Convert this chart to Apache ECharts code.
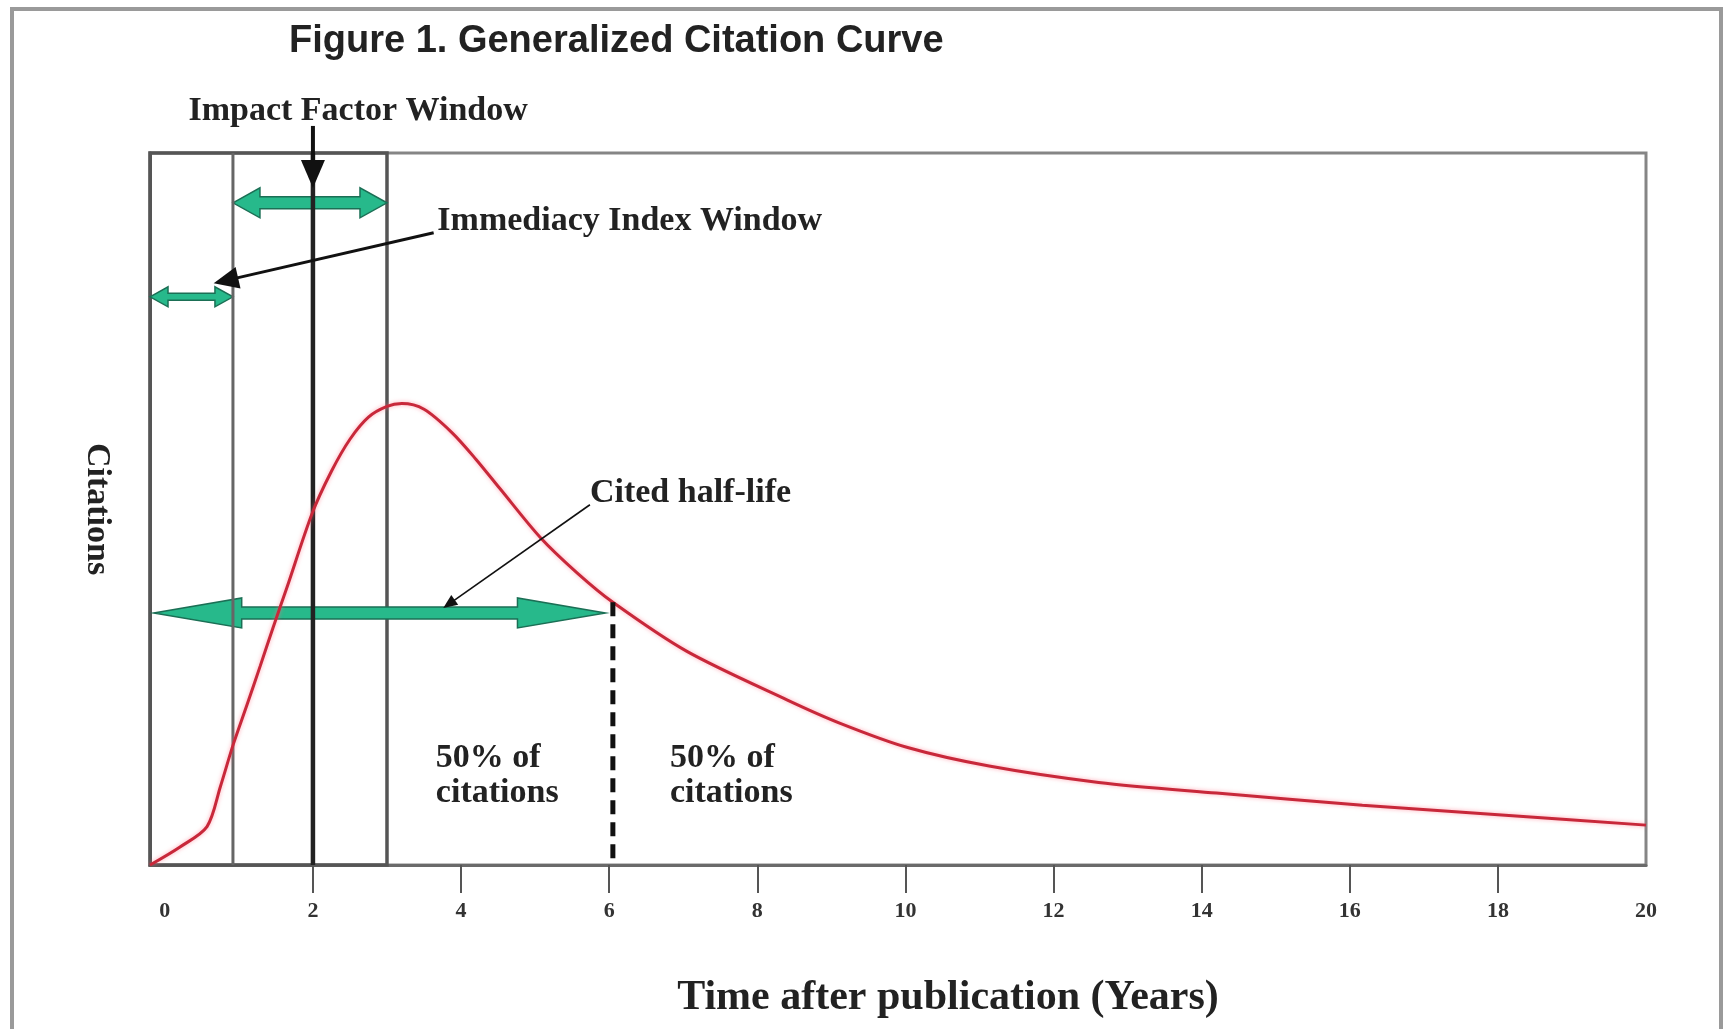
<!DOCTYPE html>
<html>
<head>
<meta charset="utf-8">
<script src="https://cdn.jsdelivr.net/npm/echarts@6/dist/echarts.min.js"></script>
<style>
html,body{margin:0;padding:0;background:#fff;}
#chart{width:1723px;height:1029px;}
</style>
</head>
<body>
<div id="chart"></div>
<script>
// ---- data (years after publication / relative citations) ----
const curveYears = [-0.2, 0.2, 0.57, 0.75, 0.92, 1.11, 1.29, 1.46, 1.65, 1.99, 2.25, 2.5, 2.75, 3.0, 3.2, 3.5, 3.88, 4.2, 4.53, 5.07, 5.57, 6.05, 7.05, 8.4, 9.12, 10.03, 11.13, 12.61, 14.2, 16.17, 18.1, 20];
const curveCitations = [0, 2.5, 5.4, 11.0, 16.8, 22.5, 28.0, 33.3, 39.0, 49.4, 55.3, 59.8, 62.9, 64.4, 64.8, 64.0, 60.7, 57.0, 52.8, 46.0, 41.0, 36.9, 30.0, 23.2, 19.9, 16.5, 13.9, 11.6, 10.1, 8.4, 7.0, 5.6];

const tickYears = [0, 2, 4, 6, 8, 10, 12, 14, 16, 18, 20];
const tickMarkYears = [2, 4, 6, 8, 10, 12, 14, 16, 18];

// windows: box covering years -0.2..3 and inner separators
const windowBoxFrom = [-0.2];
const windowBoxTo = [3.0];
const windowLineYears = [0.92, 2.0];

// green double-headed spans: Impact Factor, Immediacy Index, Cited half-life
const spanFrom = [0.92, -0.2, -0.15];
const spanTo = [3.0, 0.92, 5.95];
const spanLevel = [93.0, 79.8, 35.4];

// black pointer arrows (from -> to)
const pointerFromX = [2.0, 3.63, 5.74];
const pointerFromY = [103.8, 88.8, 50.6];
const pointerToX = [2.0, 0.66, 3.76];
const pointerToY = [95.1, 81.7, 36.1];

// cited half-life marker
const halfLifeYear = [6.05];
const halfLifeLevel = [36.9];

// annotations
const noteTexts = ['Impact Factor Window', 'Immediacy Index Window', 'Cited half-life', '50% of\ncitations', '50% of\ncitations'];
const noteX = [2.61, 3.68, 5.74, 3.66, 6.82];
const noteY = [105.8, 90.4, 52.2, 12.6, 12.6];

// ---- styles ----
const SERIF = '"Liberation Serif", "Times New Roman", serif';
const noteAlign = ['center', 'left', 'left', 'left', 'left'];
const spanShape = [
  {head: 27, headHalf: 15, shaftHalf: 6},
  {head: 18, headHalf: 10, shaftHalf: 3.5},
  {head: 88, headHalf: 15, shaftHalf: 6}
];
const pointerShape = [
  {width: 4, head: 28, half: 12},
  {width: 3, head: 25, half: 11},
  {width: 1.6, head: 14, half: 6}
];
const windowLineStyle = [
  {stroke: '#666', lineWidth: 3},
  {stroke: '#222', lineWidth: 4.5}
];

const chart = echarts.init(document.getElementById('chart'), null, {renderer: 'canvas'});

const option = {
  animation: false,
  backgroundColor: '#fff',
  title: {
    text: 'Figure 1. Generalized Citation Curve',
    left: 284, top: 18,
    textStyle: {fontFamily: '"Liberation Sans", Arial, sans-serif', fontWeight: 'bold', fontSize: 38, color: '#222'}
  },
  graphic: [{
    type: 'polyline',
    shape: {points: [[12, 1029], [12, 9], [1721, 9], [1721, 1029]]},
    style: {stroke: '#9a9a9a', lineWidth: 4, fill: null},
    silent: true
  }],
  grid: {
    left: 150, right: 77, top: 153, bottom: 164,
    show: true, borderColor: '#858585', borderWidth: 3, backgroundColor: 'transparent'
  },
  xAxis: {
    type: 'value', min: -0.2, max: 20,
    axisLine: {show: true, onZero: false, lineStyle: {color: '#6a6a6a', width: 3}},
    axisTick: {show: true, customValues: tickMarkYears, length: 28, lineStyle: {color: '#555', width: 2}},
    axisLabel: {customValues: tickYears, margin: 35, fontFamily: SERIF, fontWeight: 'bold', fontSize: 22, color: '#333'},
    splitLine: {show: false},
    name: 'Time after publication (Years)',
    nameLocation: 'middle', nameGap: 112,
    nameTextStyle: {fontFamily: SERIF, fontWeight: 'bold', fontSize: 42, color: '#222', padding: [0, 0, 0, 100]}
  },
  yAxis: {
    type: 'value', min: 0, max: 100,
    axisLine: {show: true, onZero: false, lineStyle: {color: '#555', width: 3}},
    axisTick: {show: false}, axisLabel: {show: false}, splitLine: {show: false},
    name: 'Citations', nameLocation: 'middle', nameRotate: -90, nameGap: 36,
    nameTextStyle: {fontFamily: SERIF, fontWeight: 'bold', fontSize: 34, color: '#222'}
  },
  series: [
    {
      name: 'windowBox', type: 'custom', z: 2, silent: true,
      data: windowBoxFrom.map((f, i) => [f, windowBoxTo[i]]),
      renderItem: function (params, api) {
        const a = api.coord([api.value(0), 100]);
        const b = api.coord([api.value(1), 0]);
        return {type: 'rect', shape: {x: a[0], y: a[1], width: b[0] - a[0], height: b[1] - a[1]},
          style: {fill: null, stroke: '#555', lineWidth: 3.5}};
      }
    },
    {
      name: 'spans', type: 'custom', z: 3, silent: true,
      data: spanFrom.map((f, i) => [f, spanTo[i], spanLevel[i]]),
      renderItem: function (params, api) {
        const s = spanShape[params.dataIndex];
        const p1 = api.coord([api.value(0), api.value(2)]);
        const p2 = api.coord([api.value(1), api.value(2)]);
        const x1 = p1[0], x2 = p2[0], cy = p1[1];
        const pts = [
          [x1, cy], [x1 + s.head, cy - s.headHalf], [x1 + s.head, cy - s.shaftHalf],
          [x2 - s.head, cy - s.shaftHalf], [x2 - s.head, cy - s.headHalf], [x2, cy],
          [x2 - s.head, cy + s.headHalf], [x2 - s.head, cy + s.shaftHalf],
          [x1 + s.head, cy + s.shaftHalf], [x1 + s.head, cy + s.headHalf]
        ];
        return {type: 'polygon', shape: {points: pts},
          style: {fill: '#27b98b', stroke: '#1b6f55', lineWidth: 1.5}};
      }
    },
    {
      name: 'windowLines', type: 'custom', z: 4, silent: true,
      data: windowLineYears.map(x => [x]),
      renderItem: function (params, api) {
        const t = api.coord([api.value(0), 100]);
        const b = api.coord([api.value(0), 0]);
        return {type: 'line', shape: {x1: t[0], y1: t[1], x2: b[0], y2: b[1]},
          style: windowLineStyle[params.dataIndex]};
      }
    },
    {
      name: 'Citations', type: 'line', z: 5,
      data: curveYears.map((x, i) => [x, curveCitations[i]]),
      smooth: 0.3, symbol: 'none',
      lineStyle: {color: '#c8283a', width: 3, shadowColor: 'rgba(255,110,130,0.6)', shadowBlur: 4}
    },
    {
      name: 'halfLife', type: 'custom', z: 6, silent: true,
      data: halfLifeYear.map((x, i) => [x, halfLifeLevel[i]]),
      renderItem: function (params, api) {
        const t = api.coord([api.value(0), api.value(1)]);
        const b = api.coord([api.value(0), 0]);
        return {type: 'line', shape: {x1: t[0], y1: t[1], x2: b[0], y2: b[1]},
          style: {stroke: '#111', lineWidth: 5, lineDash: [14, 8]}};
      }
    },
    {
      name: 'pointers', type: 'custom', z: 7, silent: true,
      data: pointerFromX.map((x, i) => [x, pointerFromY[i], pointerToX[i], pointerToY[i]]),
      renderItem: function (params, api) {
        const s = pointerShape[params.dataIndex];
        const a = api.coord([api.value(0), api.value(1)]);
        const b = api.coord([api.value(2), api.value(3)]);
        const dx = b[0] - a[0], dy = b[1] - a[1];
        const len = Math.sqrt(dx * dx + dy * dy);
        const ux = dx / len, uy = dy / len;
        const bx = b[0] - ux * s.head, by = b[1] - uy * s.head;
        return {type: 'group', children: [
          {type: 'line', shape: {x1: a[0], y1: a[1], x2: bx + ux * 2, y2: by + uy * 2},
            style: {stroke: '#111', lineWidth: s.width}},
          {type: 'polygon', shape: {points: [[b[0], b[1]], [bx - uy * s.half, by + ux * s.half], [bx + uy * s.half, by - ux * s.half]]},
            style: {fill: '#111'}}
        ]};
      }
    },
    {
      name: 'notes', type: 'custom', z: 8, silent: true,
      data: noteX.map((x, i) => [x, noteY[i]]),
      renderItem: function (params, api) {
        const p = api.coord([api.value(0), api.value(1)]);
        return {type: 'text', x: p[0], y: p[1],
          style: {text: noteTexts[params.dataIndex], fill: '#222',
            font: 'bold 34px ' + SERIF, align: noteAlign[params.dataIndex],
            verticalAlign: 'middle', lineHeight: 35}};
      }
    }
  ]
};
chart.setOption(option);
</script>
</body>
</html>
